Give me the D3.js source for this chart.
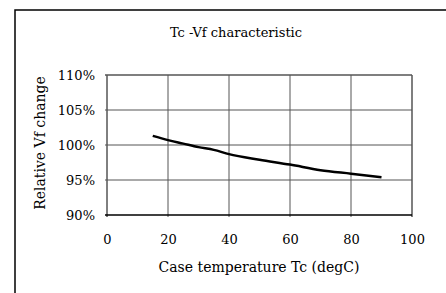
<!DOCTYPE html>
<html>
<head>
<meta charset="utf-8">
<script src="https://cdn.jsdelivr.net/npm/d3@7"></script>
<style>
  body { margin: 0; background: #fff; }
  svg text { font-family: "DejaVu Serif", serif; fill: #000; }
</style>
</head>
<body>
<div id="chart"></div>
<script>
// ------------------------------------
// Tc - Vf characteristic
// ------------------------------------

// data
const caseTemp = [15, 20, 25, 30, 35, 40, 50, 60, 70, 80, 90];
const vfChange = [101.3, 100.7, 100.2, 99.7, 99.3, 98.7, 97.9, 97.2, 96.4, 95.9, 95.4];
const xTicks = [0, 20, 40, 60, 80, 100];
const yTicks = [90, 95, 100, 105, 110];

const width = 446;
const height = 293;
const plot = { left: 107, top: 75, right: 412, bottom: 215 };

const svg = d3.select("#chart")
    .append("svg")
    .attr("width", width)
    .attr("height", height);

// outer frame (only top and left edges show in the window)
svg.append("rect")
    .attr("x", 15)
    .attr("y", 10)
    .attr("width", 460)
    .attr("height", 320)
    .attr("fill", "none")
    .attr("stroke", "#000")
    .attr("stroke-width", 1.5);

const x = d3.scaleLinear().domain([0, 100]).range([plot.left, plot.right]);
const y = d3.scaleLinear().domain([90, 110]).range([plot.bottom, plot.top]);

// grid
const grid = svg.append("g");
grid.selectAll("line.vx")
    .data(xTicks)
    .enter()
    .append("line")
    .attr("x1", d => x(d)).attr("x2", d => x(d))
    .attr("y1", plot.top).attr("y2", plot.bottom + 2)
    .attr("stroke", d => (d === 0 ? "#000" : "#555"))
    .attr("stroke-width", d => (d === 100 ? 1.5 : 1));

grid.selectAll("line.hy")
    .data(yTicks)
    .enter()
    .append("line")
    .attr("x1", plot.left - 2).attr("x2", plot.right)
    .attr("y1", d => y(d)).attr("y2", d => y(d))
    .attr("stroke", d => (d === 90 ? "#000" : "#555"))
    .attr("stroke-width", d => (d === 90 || d === 110 ? 1.5 : 1));

// tick labels
const xAxis = d3.axisBottom(x).tickValues(xTicks).tickSize(0).tickPadding(20);
svg.append("g")
    .attr("transform", `translate(0,${plot.bottom})`)
    .call(xAxis)
    .call(g => g.select(".domain").remove())
    .selectAll("text")
    .style("font-size", "13px")
    .style("font-family", "DejaVu Serif, serif");

const yAxis = d3.axisLeft(y).tickValues(yTicks).tickSize(0).tickPadding(12).tickFormat(d => d + "%");
svg.append("g")
    .attr("transform", `translate(${plot.left},0)`)
    .call(yAxis)
    .call(g => g.select(".domain").remove())
    .selectAll("text")
    .style("font-size", "13px")
    .style("font-family", "DejaVu Serif, serif");

// curve
const line = d3.line()
    .x((d, i) => x(caseTemp[i]))
    .y(d => y(d))
    .curve(d3.curveMonotoneX);

svg.append("path")
    .datum(vfChange)
    .attr("d", line)
    .attr("fill", "none")
    .attr("stroke", "#000")
    .attr("stroke-width", 2.5);

// titles
svg.append("text")
    .attr("x", 236)
    .attr("y", 37)
    .attr("text-anchor", "middle")
    .style("font-size", "13px")
    .text("Tc -Vf characteristic");

svg.append("text")
    .attr("x", 259)
    .attr("y", 272)
    .attr("text-anchor", "middle")
    .style("font-size", "14px")
    .text("Case temperature Tc (degC)");

svg.append("text")
    .attr("transform", "translate(45,143) rotate(-90)")
    .attr("text-anchor", "middle")
    .style("font-size", "14px")
    .text("Relative Vf change");
</script>
</body>
</html>
